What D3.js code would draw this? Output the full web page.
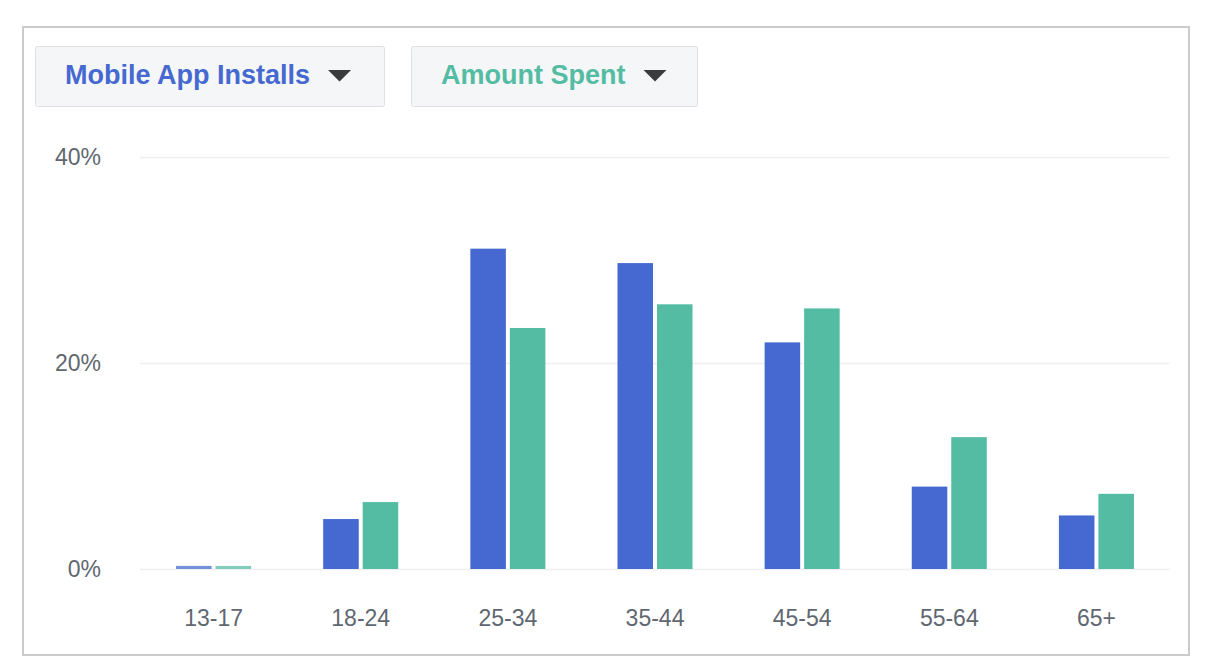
<!DOCTYPE html>
<html>
<head>
<meta charset="utf-8">
<script src="https://cdn.jsdelivr.net/npm/d3@7"></script>
<style>
  body { margin: 0; background: #fff; }
  svg { display: block; }
</style>
</head>
<body>
<svg id="chart" width="1214" height="672"></svg>
<script>
// data (percent of total)
var ageGroups = ["13-17", "18-24", "25-34", "35-44", "45-54", "55-64", "65+"];
var installs = [0.3, 4.85, 31.1, 29.7, 22.0, 8.0, 5.2];
var spent = [0.3, 6.5, 23.4, 25.7, 25.3, 12.8, 7.3];
var seriesNames = ["Mobile App Installs", "Amount Spent"];
var seriesColors = ["#4569d0", "#55bca4"];
var yTicks = [0, 20, 40];

var svg = d3.select("#chart");

// outer frame
svg.append("rect").attr("x", 23).attr("y", 27).attr("width", 1166).attr("height", 628)
    .attr("fill", "#fff").attr("stroke", "#cbcbcb").attr("stroke-width", 2);

// dropdown buttons
var buttons = [{ x: 35, w: 349 }, { x: 411, w: 286 }];
buttons.forEach(function(b, i) {
    var g = svg.append("g").attr("transform", "translate(" + b.x + ",46)");
    g.append("rect").attr("x", 0.5).attr("y", 0.5).attr("width", b.w).attr("height", 60).attr("rx", 2)
        .attr("fill", "#f5f6f7").attr("stroke", "#dddfe2");
    var t = g.append("text").attr("x", 30).attr("y", 38)
        .attr("font-family", "'Liberation Sans', Arial, sans-serif").attr("font-size", 27).attr("font-weight", "bold")
        .attr("fill", seriesColors[i]).text(seriesNames[i]);
    var tw = t.node().getComputedTextLength();
    var ax = 30 + tw + 18;
    g.append("path").attr("d", "M" + ax + ",24 L" + (ax + 23) + ",24 L" + (ax + 11.5) + ",35.5 Z").attr("fill", "#3a3b3d");
});

var margin = { left: 140, right: 1170, top: 157, bottom: 569 };

var x0 = d3.scaleBand().domain(ageGroups).range([margin.left, margin.right]).paddingInner(0.49).paddingOuter(0.245);
var x1 = d3.scaleBand().domain([0, 1]).range([0, x0.bandwidth()]).paddingInner(0.1);
var y = d3.scaleLinear().domain([0, 40]).range([margin.bottom, margin.top]);

// grid + y labels
var yAxis = svg.append("g").attr("transform", "translate(" + margin.left + ",0)")
    .call(d3.axisLeft(y).tickValues(yTicks).tickSize(-(margin.right - margin.left)).tickFormat(function(d) { return d + "%"; }).tickPadding(39));
yAxis.select(".domain").remove();
yAxis.selectAll(".tick line").attr("stroke", "#eef0f2").attr("stroke-width", 1.5);
yAxis.selectAll(".tick text").attr("font-family", "'Liberation Sans', Arial, sans-serif").attr("font-size", 23).attr("fill", "#606770");

// bars
var groups = svg.append("g").selectAll("g").data(ageGroups).join("g")
    .attr("transform", function(d) { return "translate(" + x0(d) + ",0)"; });
groups.selectAll("rect").data(function(d, i) { return [installs[i], spent[i]]; }).join("rect")
    .attr("x", function(d, j) { return x1(j); })
    .attr("width", x1.bandwidth())
    .attr("y", function(d) { return y(d); })
    .attr("height", function(d) { return y(0) - y(d); })
    .attr("fill", function(d, j) { return seriesColors[j]; })
    .attr("opacity", function(d) { return d < 1 ? 0.75 : 1; });

// x labels
var xAxis = svg.append("g").attr("transform", "translate(0," + margin.bottom + ")")
    .call(d3.axisBottom(x0).tickSize(0).tickPadding(41));
xAxis.select(".domain").remove();
xAxis.selectAll(".tick text").attr("font-family", "'Liberation Sans', Arial, sans-serif").attr("font-size", 23).attr("fill", "#606770");
</script>
</body>
</html>
